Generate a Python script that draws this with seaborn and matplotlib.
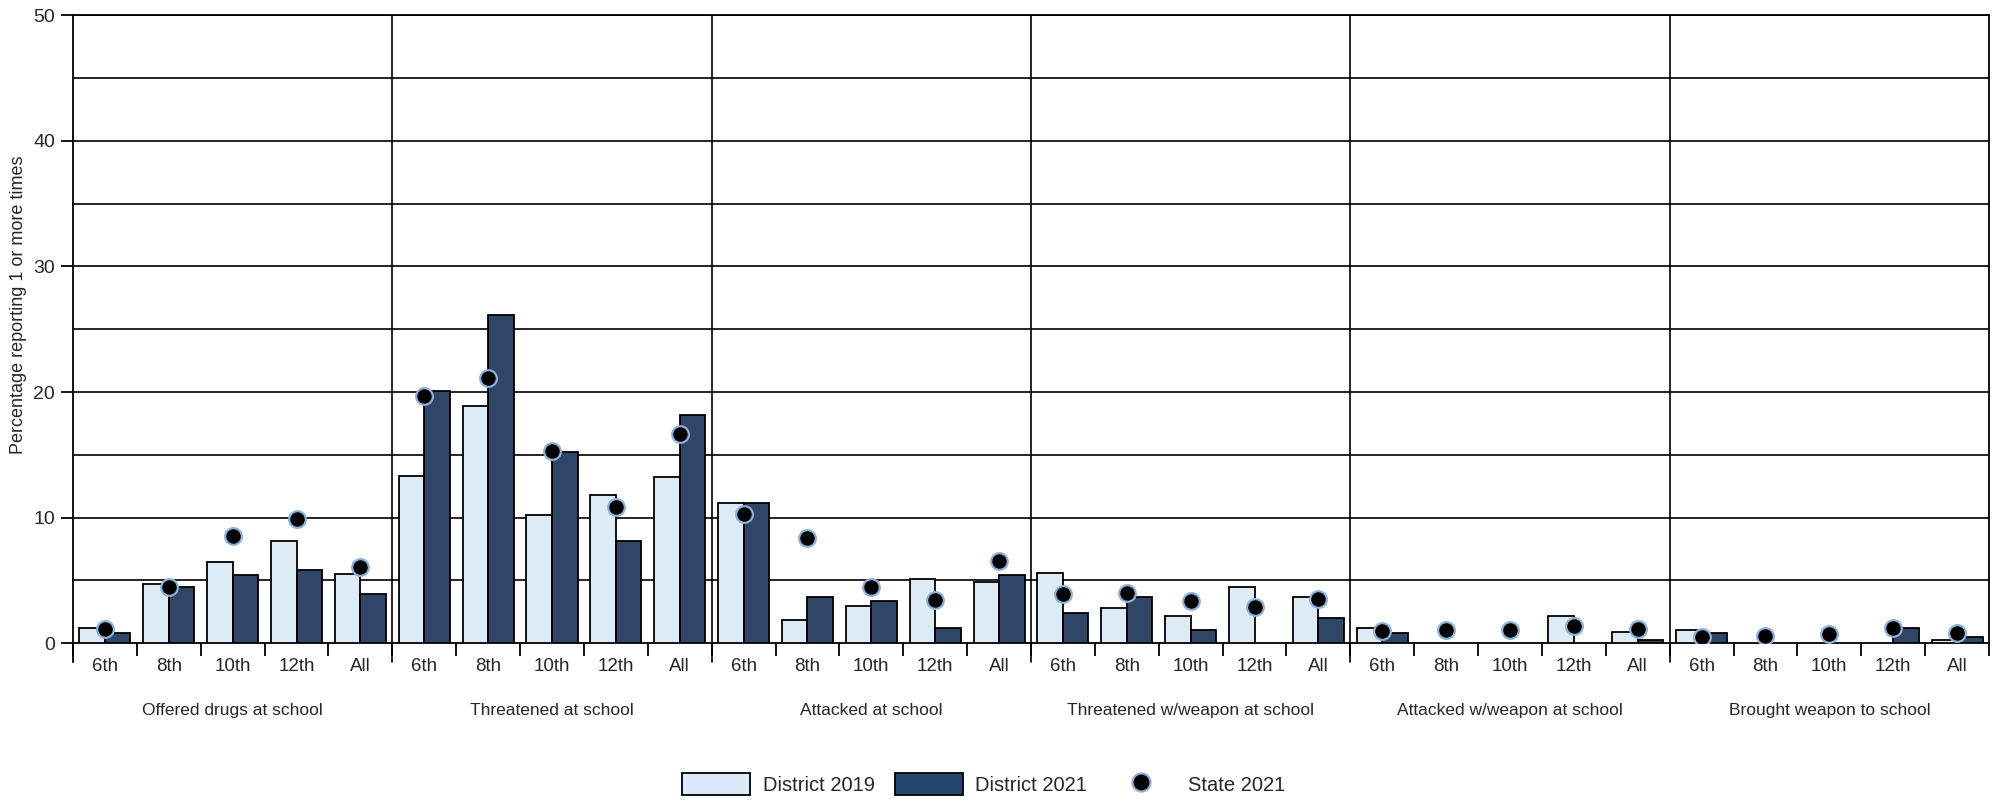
import matplotlib
matplotlib.use("Agg")
import matplotlib.pyplot as plt
import numpy as np
import pandas as pd
import seaborn as sns
from matplotlib.lines import Line2D
from matplotlib.patches import Patch

groups = [
    "Offered drugs at school",
    "Threatened at school",
    "Attacked at school",
    "Threatened w/weapon at school",
    "Attacked w/weapon at school",
    "Brought weapon to school",
]
grades = ["6th", "8th", "10th", "12th", "All"]

district_2019 = [
    1.2, 4.75, 6.5, 8.1, 5.5,
    13.3, 18.9, 10.2, 11.8, 13.2,
    11.2, 1.85, 2.95, 5.1, 4.85,
    5.6, 2.8, 2.15, 4.5, 3.65,
    1.2, np.nan, np.nan, 2.15, 0.9,
    1.05, np.nan, np.nan, np.nan, 0.25,
]
district_2021 = [
    0.8, 4.5, 5.4, 5.8, 3.9,
    20.1, 26.1, 15.2, 8.15, 18.2,
    11.2, 3.65, 3.35, 1.2, 5.4,
    2.4, 3.65, 1.05, np.nan, 2.0,
    0.8, np.nan, np.nan, np.nan, 0.25,
    0.8, np.nan, np.nan, 1.2, 0.5,
]
state_2021 = [
    1.1, 4.45, 8.5, 9.85, 6.1,
    19.7, 21.1, 15.3, 10.85, 16.65,
    10.3, 8.4, 4.5, 3.45, 6.55,
    3.9, 4.0, 3.4, 2.9, 3.5,
    1.0, 1.05, 1.05, 1.35, 1.15,
    0.5, 0.55, 0.75, 1.2, 0.8,
]

LIGHT = "#d9ebfb"
DARK = "#26456f"
DOT_EDGE = "#8fb0d6"
FONT = ["Liberation Sans", "DejaVu Sans"]

keys = [f"{g}|{gr}" for g in groups for gr in grades]
tick_labels = [gr for _ in groups for gr in grades]

bars = pd.concat([
    pd.DataFrame({"key": keys, "value": district_2019, "series": "District 2019"}),
    pd.DataFrame({"key": keys, "value": district_2021, "series": "District 2021"}),
]).dropna()
state = pd.DataFrame({"key": keys, "value": state_2021})

sns.set_theme(style="white")
plt.rcParams["font.family"] = FONT

fig = plt.figure(figsize=(19.99, 8.01), dpi=100)
ax = fig.add_axes([0.0365, 0.197, 0.9585, 0.784])

sns.barplot(
    data=bars, x="key", y="value", hue="series", order=keys,
    hue_order=["District 2019", "District 2021"],
    palette=[LIGHT, DARK], width=0.8, edgecolor="black", linewidth=1.3,
    legend=False, ax=ax, zorder=3,
)
sns.stripplot(
    data=state, x="key", y="value", order=keys, jitter=False,
    color="black", size=12, edgecolor=DOT_EDGE, linewidth=1.6,
    ax=ax, zorder=5,
)

ax.set_xlim(-0.5, len(keys) - 0.5)
ax.set_ylim(0, 50)

# horizontal gridlines every 5
for y in np.arange(5, 51, 5):
    ax.axhline(y, color="black", linewidth=1.2, zorder=1)
# vertical group separators
for i in range(1, len(groups)):
    ax.axvline(i * len(grades) - 0.5, color="black", linewidth=1.2, zorder=1,
               ymin=-0.03, clip_on=False)

for side in ["left", "bottom", "right", "top"]:
    ax.spines[side].set_color("black")
    ax.spines[side].set_linewidth(1.3)
ax.spines["left"].set_bounds(-1.5, 50)

ax.set_yticks(np.arange(0, 51, 10))
ax.set_yticklabels([str(v) for v in range(0, 51, 10)], fontsize=14)
ax.tick_params(axis="y", length=9, width=1.3, color="black", direction="out",
               left=True, pad=4)

ax.set_xticks(range(len(keys)))
ax.set_xticklabels(tick_labels, fontsize=13.5)
ax.set_xticks(np.arange(-0.5, len(keys), 1), minor=True)
ax.tick_params(axis="x", which="major", length=0, pad=11)
ax.tick_params(axis="x", which="minor", length=9, width=1.3, color="black",
               direction="out", bottom=True)

ax.set_xlabel("")
ax.set_ylabel("")
fig.text(0.0095, 0.62, "Percentage reporting 1 or more times", rotation=90,
         ha="center", va="center", fontsize=13)

for i, g in enumerate(groups):
    ax.text(i * len(grades) + 2, -0.107, g, transform=ax.get_xaxis_transform(),
            ha="center", va="center", fontsize=12.5)

handles = [
    Patch(facecolor=LIGHT, edgecolor="black", linewidth=1.3, label="District 2019"),
    Patch(facecolor=DARK, edgecolor="black", linewidth=1.3, label="District 2021"),
    Line2D([], [], marker="o", linestyle="", markerfacecolor="black",
           markeredgecolor=DOT_EDGE, markeredgewidth=1.6, markersize=13,
           label="State 2021"),
]
fig.legend(handles=handles, loc="center", bbox_to_anchor=(0.492, 0.021), ncol=3,
           frameon=False, fontsize=14.5, handlelength=3.4, handleheight=1.3,
           columnspacing=1.0, handletextpad=0.6)

fig.savefig("out.png", dpi=100)
